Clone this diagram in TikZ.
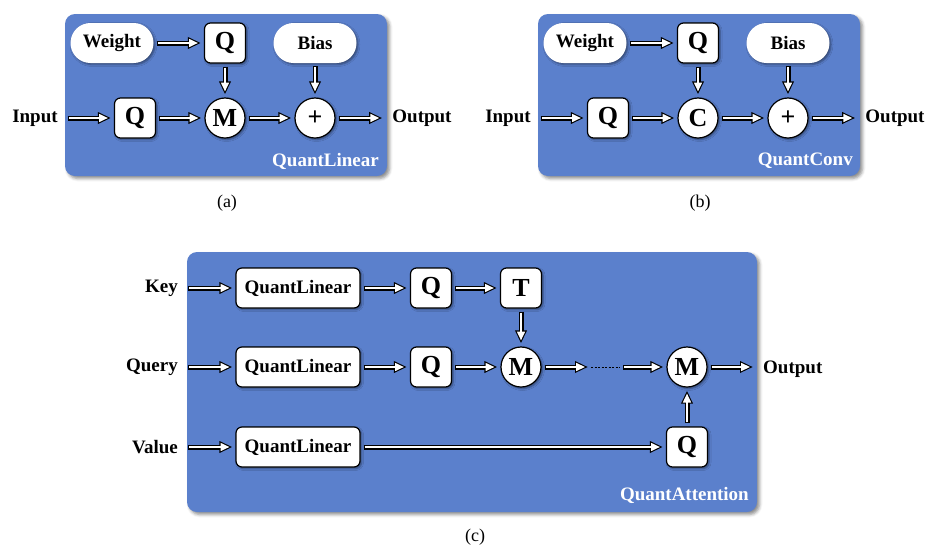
\documentclass[tikz,border=0pt]{standalone}
\usepackage{fontspec}
\setmainfont{Liberation Serif}
\usetikzlibrary{arrows.meta,shadows.blur}
\definecolor{panel}{RGB}{91,128,204}
\begin{document}
\begin{tikzpicture}[x=1pt,y=-1pt,
  panelbox/.style={fill=panel, rounded corners=10pt,
    blur shadow={shadow xshift=2.5pt, shadow yshift=-2.5pt, shadow blur radius=3pt, shadow opacity=45}},
  nodeshadow/.style={blur shadow={shadow xshift=1.5pt, shadow yshift=-1.5pt, shadow blur radius=2pt, shadow opacity=45}},
  sq/.style={draw=black, line width=1.2pt, fill=white, rounded corners=6pt,
    minimum width=41pt, minimum height=40pt, inner sep=0pt,
    font=\fontsize{26}{26}\selectfont\bfseries, nodeshadow},
  wide/.style={sq, minimum width=124pt, font=\fontsize{19}{19}\selectfont\bfseries},
  circ/.style={circle, draw=black, line width=1.2pt, fill=white, minimum size=40pt, inner sep=0pt,
    font=\fontsize{26}{26}\selectfont\bfseries, nodeshadow},
  pill/.style={fill=white, rounded corners=19.9pt, minimum width=83pt, minimum height=40pt, inner sep=0pt,
    font=\fontsize{19}{19}\selectfont\bfseries, nodeshadow},
  lbl/.style={inner sep=7pt, font=\fontsize{19}{19}\selectfont\bfseries},
  tag/.style={anchor=east, inner sep=0pt, text=white, font=\fontsize{19}{19}\selectfont\bfseries},
  captxt/.style={inner sep=0pt, font=\fontsize{18}{18}\selectfont},
  arr/.style={preaction={draw=black, line width=5pt, -{Triangle[length=13pt,width=11pt]},
      shorten <=3pt, shorten >=3pt},
    draw=white, line width=2.8pt, -{Triangle[length=9.1pt,width=7.7pt]},
    shorten <=4.1pt, shorten >=5.8pt}
]
\useasboundingbox (0,0) rectangle (930,547);

% ---------------- (a)
\path[panelbox] (65,14) rectangle (387,176);
\node[pill] (wa) at (112,43) {Weight};
\node[sq] (qwa) at (225,43) {Q};
\node[pill] (ba) at (315,43) {Bias};
\node[lbl] (ina) at (35,118) {Input};
\node[sq] (qia) at (135,118) {Q};
\node[circ] (ma) at (225,118) {M};
\node[circ] (pa) at (315,118) {+};
\node[lbl] (outa) at (422,118) {Output};
\node[tag] (ta) at (379,161) {QuantLinear};
\node[captxt] (ca) at (227,203) {(a)};
\draw[arr] (wa) -- (qwa);
\draw[arr] (qwa) -- (ma);
\draw[arr] (ba) -- (pa);
\draw[arr] (ina) -- (qia);
\draw[arr] (qia) -- (ma);
\draw[arr] (ma) -- (pa);
\draw[arr] (pa) -- (outa);

% ---------------- (b)
\path[panelbox] (538,14) rectangle (860,176);
\node[pill] (wb) at (585,43) {Weight};
\node[sq] (qwb) at (698,43) {Q};
\node[pill] (bb) at (788,43) {Bias};
\node[lbl] (inb) at (508,118) {Input};
\node[sq] (qib) at (608,118) {Q};
\node[circ] (cb) at (698,118) {C};
\node[circ] (pb) at (788,118) {+};
\node[lbl] (outb) at (895,118) {Output};
\node[tag] (tb) at (853,161) {QuantConv};
\node[captxt] (cbp) at (700,203) {(b)};
\draw[arr] (wb) -- (qwb);
\draw[arr] (qwb) -- (cb);
\draw[arr] (bb) -- (pb);
\draw[arr] (inb) -- (qib);
\draw[arr] (qib) -- (cb);
\draw[arr] (cb) -- (pb);
\draw[arr] (pb) -- (outb);

% ---------------- (c)
\path[panelbox] (187,252) rectangle (757,512);
\node[lbl, anchor=east] (key) at (185,288) {Key};
\node[lbl, anchor=east] (query) at (185,367) {Query};
\node[lbl, anchor=east] (value) at (185,447) {Value};
\node[wide] (lk) at (298,288) {QuantLinear};
\node[wide] (lq) at (298,367) {QuantLinear};
\node[wide] (lv) at (298,447) {QuantLinear};
\node[sq] (qk) at (431,288) {Q};
\node[sq] (tk) at (521,288) {T};
\node[sq] (qq) at (431,367) {Q};
\node[circ] (m1) at (521,367) {M};
\coordinate (d1) at (591,367);
\coordinate (d2) at (620,367);
\node[circ] (m2) at (687,367) {M};
\node[sq] (qv) at (687,447) {Q};
\node[lbl, anchor=west] (outc) at (756,369) {Output};
\node[tag] (tc) at (749,495) {QuantAttention};
\node[captxt] (cc) at (475,537) {(c)};
\draw[arr] (key) -- (lk);
\draw[arr] (query) -- (lq);
\draw[arr] (value) -- (lv);
\draw[arr] (lk) -- (qk);
\draw[arr] (qk) -- (tk);
\draw[arr] (tk) -- (m1);
\draw[arr] (lq) -- (qq);
\draw[arr] (qq) -- (m1);
\draw[arr] (m1) -- (d1);
\draw[line width=1pt, dash pattern=on 2pt off 1.5pt] (d1) -- (d2);
\draw[arr] (d2) -- (m2);
\draw[arr] (lv) -- (qv);
\draw[arr] (qv) -- (m2);
\draw[arr] (m2) -- (outc.west |- m2);
\end{tikzpicture}
\end{document}
